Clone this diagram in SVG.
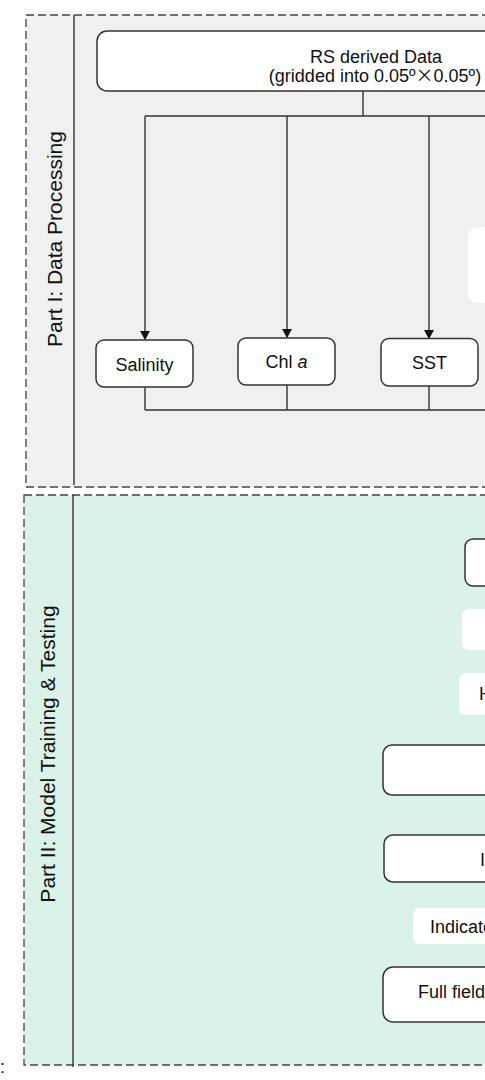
<svg xmlns="http://www.w3.org/2000/svg" width="485" height="1080" viewBox="0 0 485 1080">
<style>
text{font-family:"Liberation Sans",Arial,sans-serif;fill:#111;}
.lbl{font-size:18px;}
.part{font-size:21px;}
.box{fill:#fff;stroke:#333;stroke-width:1.5;}
.wbox{fill:#fff;stroke:none;}
.frame{stroke:#444;stroke-width:1.3;stroke-dasharray:8 4;}
.ln{fill:none;stroke:#333;stroke-width:1.4;}
.cjk{font-family:"Noto Sans CJK SC",sans-serif;}
</style>
<defs>
<marker id="arr" markerWidth="9" markerHeight="10" refX="8" refY="5" orient="auto" markerUnits="userSpaceOnUse">
<path d="M0,0 L9,5 L0,10 Z" fill="#111"/>
</marker>
</defs>
<g id="part1">
<rect x="26" y="15" width="470" height="472" fill="#f0f0f0" class="frame"/>
<line x1="74" y1="15" x2="74" y2="485" class="ln"/>
<text class="part" transform="translate(62,239) rotate(-90)" text-anchor="middle">Part I: Data Processing</text>
</g>
<g id="part2">
<rect x="24" y="495" width="472" height="570" fill="#daf2e8" class="frame"/>
<line x1="73" y1="495" x2="73" y2="1067" class="ln"/>
<text class="part" transform="translate(55,754) rotate(-90)" text-anchor="middle">Part II: Model Training &amp; Testing</text>
</g>
<g id="connectors">
<path class="ln" d="M363,91 V116 M145,116 H490"/>
<line x1="145" y1="116" x2="145" y2="339" class="ln" marker-end="url(#arr)"/>
<line x1="287" y1="116" x2="287" y2="337" class="ln" marker-end="url(#arr)"/>
<line x1="429" y1="116" x2="429" y2="338" class="ln" marker-end="url(#arr)"/>
<path class="ln" d="M145,387 V410 M287,385 V410 M429,386 V410 M145,410 H490"/>
</g>
<g id="rs-data">
<rect x="97" y="31" width="410" height="60" rx="10" class="box"/>
<text class="lbl" x="376" y="63" text-anchor="middle">RS derived Data</text>
<text class="lbl" x="375" y="82" text-anchor="middle">(gridded into 0.05º<tspan class="cjk">×</tspan>0.05º)</text>
</g>
<g id="salinity">
<rect x="96" y="340" width="97" height="47" rx="8" class="box"/>
<text class="lbl" x="144.5" y="371" text-anchor="middle">Salinity</text>
</g>
<g id="chla">
<rect x="238" y="338" width="97" height="47" rx="8" class="box"/>
<text class="lbl" x="286.5" y="368" text-anchor="middle">Chl <tspan font-style="italic">a</tspan></text>
</g>
<g id="sst">
<rect x="381" y="338.5" width="97" height="47.5" rx="8" class="box"/>
<text class="lbl" x="429.5" y="369" text-anchor="middle">SST</text>
</g>
<g id="p1-right">
<rect x="468" y="227" width="60" height="76" rx="9" class="wbox"/>
</g>
<g id="n1">
<rect x="465" y="539" width="60" height="47" rx="8" class="box"/>
</g>
<g id="n2">
<rect x="462" y="609" width="60" height="41" rx="7" class="wbox"/>
</g>
<g id="n3">
<rect x="459" y="673" width="60" height="42" rx="7" class="wbox"/>
<text class="lbl" x="479" y="700">H</text>
</g>
<g id="n4">
<rect x="383" y="745" width="140" height="50" rx="9" class="box"/>
</g>
<g id="n5">
<rect x="384" y="835" width="140" height="47" rx="9" class="box"/>
<text class="lbl" x="480" y="866">I</text>
</g>
<g id="n6">
<rect x="413" y="908" width="110" height="36" rx="7" class="wbox"/>
<text class="lbl" x="430" y="933">Indicato</text>
</g>
<g id="n7">
<rect x="383" y="967" width="140" height="55" rx="10" class="box"/>
<text class="lbl" x="418" y="998">Full field</text>
</g>
<text class="lbl" x="0" y="1073">:</text>
</svg>
